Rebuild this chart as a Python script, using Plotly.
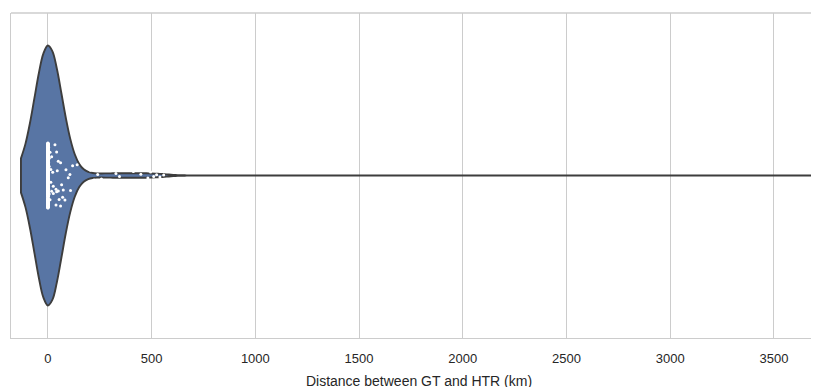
import numpy as np
import plotly.graph_objects as go

# Distance values (km) and how many samples share each value
distance_km = [0, 3, 6, 10, 14, 18, 23, 26, 34, 39, 42, 45, 50, 54, 61, 66, 71, 74,
               82, 87, 98, 106, 109, 119, 141,
               205, 222, 240, 258, 275, 292, 310, 328, 345, 360, 378, 395, 412,
               430, 448, 465, 482, 495, 510, 524, 540, 558, 3760]
sample_count = [520, 3, 3, 2, 2, 2, 1, 2, 1, 2, 2, 1, 2, 1, 2, 1, 1, 1,
                1, 1, 1, 1, 1, 1, 1,
                1, 1, 1, 1, 1, 1, 1, 1, 1, 1, 1, 1, 1,
                1, 1, 1, 1, 1, 1, 1, 1, 1, 1]
tick_values = [0, 500, 1000, 1500, 2000, 2500, 3000, 3500]
tick_labels = ["0", "500", "1000", "1500", "2000", "2500", "3000", "3500"]

samples = np.repeat(np.array(distance_km, dtype=float), sample_count)

fig = go.Figure()
fig.add_trace(go.Violin(
    x=samples, y0=0, orientation="h", name="",
    bandwidth=65, spanmode="soft", width=0.8, scalemode="width",
    fillcolor="#5875a4", line=dict(color="#3d3d3d", width=1.9),
    points="all", pointpos=0, jitter=0.25,
    marker=dict(color="white", size=3, line=dict(width=0)),
    box_visible=False, meanline_visible=False,
    hoverinfo="skip", showlegend=False,
))

fig.update_layout(
    width=819, height=387,
    margin=dict(l=3, r=0, t=5, b=57),
    paper_bgcolor="white", plot_bgcolor="white",
    font=dict(family="Liberation Sans, Arial, sans-serif", color="#262626", size=13),
    xaxis=dict(
        range=[-178, 3756], tickvals=tick_values, ticktext=tick_labels,
        showgrid=True, gridcolor="#cccccc", gridwidth=1, zeroline=False,
        showline=True, linecolor="#cccccc", linewidth=1.3, mirror=False,
        ticks="outside", ticklen=8, tickcolor="rgba(0,0,0,0)",
        tickfont=dict(size=13, color="#262626"),
        title=dict(text="Distance between GT and HTR (km)", font=dict(size=14, color="#262626"), standoff=11),
        automargin=False,
    ),
    yaxis=dict(
        type="linear", range=[-0.5, 0.5], showticklabels=False, showgrid=False,
        zeroline=False, showline=True, linecolor="#cccccc", linewidth=1.3,
        ticks="", automargin=False,
    ),
    shapes=[dict(type="line", xref="paper", yref="paper", x0=0, x1=1, y0=1, y1=1,
                 line=dict(color="#cccccc", width=1.3))],
)

fig.write_html("out.html")
